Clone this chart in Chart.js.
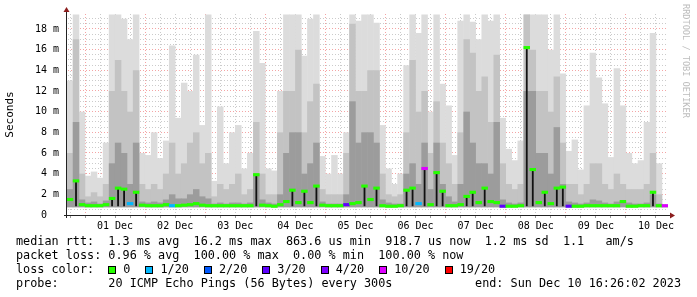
<!DOCTYPE html>
<html>
<head>
<meta charset="utf-8">
<script src="https://cdn.jsdelivr.net/npm/chart.js@4/dist/chart.umd.min.js"></script>
<style>
  html, body { margin: 0; padding: 0; background: #fff; }
  #wrap { position: relative; width: 697px; height: 297px; overflow: hidden; }
  #chart { position: absolute; left: 0; top: 0; }
  .txt { position: absolute; font-family: 'DejaVu Sans Mono', monospace; font-size: 11.8px; line-height: 14px; white-space: pre; color: #000; }
  .box { display: inline-block; width: 6px; height: 6px; border: 1px solid #000; vertical-align: -1px; margin-right: 7px; }
  .item { margin-right: 15px; }
  #mark { position: absolute; left: 681px; top: 4px; writing-mode: vertical-rl; font-family: 'DejaVu Sans Mono', monospace; font-size: 8.6px; color: #bdbdbd; white-space: pre; }
</style>
</head>
<body>
<div id="wrap">
  <canvas id="chart" width="697" height="297"></canvas>
  <div id="mark">RRDTOOL / TOBI OETIKER</div>
  <div class="txt" id="footer" style="left:16px; top:234px;"></div>
  <div class="txt" id="end" style="right:16px; top:276px;"></div>
</div>
<script>
// time axis: days relative to 01 Dec 00:00, one column = 0.1 day
const startDay = -0.3;
const colDays = 0.1;
const dayLabels = ['01 Dec', '02 Dec', '03 Dec', '04 Dec', '05 Dec', '06 Dec', '07 Dec', '08 Dec', '09 Dec', '10 Dec'];

// smoke levels (ms) per column
const smokeMax = [
  13, 19.4, 10, 3.8, 4.2, 3.6, 7, 19.4, 19.4, 19,
  17, 19.4, 6, 5.8, 8, 5.5, 7.2, 16.4, 9.4, 12.8,
  12, 15.5, 8.7, 19.4, 3.3, 10.5, 5, 8, 8.7, 4.5,
  6, 17.8, 14.7, 4.5, 4.3, 12, 19.4, 19.4, 19.4, 15.4,
  19, 19.4, 5.7, 4, 5.8, 4, 8, 19.4, 18.8, 19.4,
  19.4, 18.6, 8.7, 4.5, 3, 4, 14.5, 19.4, 17.6, 19.4,
  10, 19.4, 12.7, 10.6, 5.8, 18.8, 19.4, 18.7, 17, 19.4,
  18.8, 19.4, 9.4, 6.4, 5.3, 7.2, 19.4, 19.4, 19.4, 19.4,
  16, 19.4, 13.7, 6.2, 7.3, 4.4, 10.6, 15.7, 13.3, 10.8,
  5.6, 14.2, 10.6, 6, 5, 5.3, 9, 17.6, 5, 1
];
const smokeMid = [
  6, 17, 4, 1.8, 2.2, 1.8, 3, 12, 15, 12,
  10, 14, 3, 2.5, 3, 2.5, 4, 7, 4, 5,
  7, 8, 5, 6, 1.8, 3, 2.5, 3, 4, 2,
  2.5, 9, 4, 2, 2, 8, 12, 12, 16, 8,
  11, 12.7, 2.5, 2, 2, 2, 6, 18.5, 12, 12,
  14, 14, 4, 2, 1.8, 2, 8, 15, 10, 12,
  6, 11, 7, 5, 3, 8, 17, 15.7, 12, 13.4,
  9, 15.5, 5, 3, 2.5, 3, 19.4, 16, 12, 12,
  10, 13.4, 7, 3, 3, 2, 3, 5, 5, 3,
  2.5, 4, 3, 2.5, 2.5, 2.5, 3, 6, 2, 0.95
];
const smokeDark = [
  2.5, 9, 1.5, 1.2, 1.3, 1.1, 1.4, 5, 7, 6,
  3, 7, 1.3, 1.2, 1.3, 1.2, 1.5, 2, 1.6, 1.6,
  2, 2.5, 1.8, 1.6, 1.1, 1.2, 1.1, 1.2, 1.2, 1.1,
  1.2, 4, 1.5, 1.2, 1.1, 2, 6, 8, 8, 4,
  5, 7, 1.3, 1.1, 1.1, 1.1, 2, 11, 7, 8,
  8, 7, 1.5, 1.2, 1.1, 1.1, 4, 5, 3, 7,
  2.5, 7, 3, 1.8, 1.3, 3, 10, 7, 5, 5,
  4, 9, 1.5, 1.2, 1.1, 1.2, 12, 12, 6, 6,
  4, 8.5, 3, 1.3, 1.2, 1.1, 1.2, 1.5, 1.4, 1.2,
  1.1, 1.3, 1.3, 1.2, 1.1, 1.1, 1.2, 2, 1.1, 0.9
];
// median rtt (ms) and lost pings (of 20) per column
const median = [
  1.5, 3.3, 1.0, 0.9, 0.9, 0.9, 1.0, 1.6, 2.6, 2.5,
  1.1, 2.2, 0.95, 0.9, 0.9, 0.9, 1.0, 0.9, 0.9, 0.95,
  1.0, 1.1, 0.95, 0.9, 0.9, 0.9, 0.9, 0.9, 0.9, 0.9,
  0.9, 3.9, 0.95, 0.9, 0.85, 1.0, 1.3, 2.4, 1.2, 2.3,
  1.2, 2.8, 0.95, 0.9, 0.9, 0.9, 1.0, 1.1, 1.2, 2.8,
  1.5, 2.6, 0.9, 0.85, 0.85, 0.9, 2.4, 2.6, 1.1, 4.5,
  1.0, 4.1, 2.3, 0.9, 0.9, 1.0, 1.8, 2.2, 1.2, 2.6,
  1.3, 1.2, 0.85, 0.85, 0.85, 0.9, 16.2, 4.4, 1.2, 2.2,
  1.1, 2.6, 2.7, 0.85, 0.85, 0.85, 0.9, 0.9, 0.9, 0.9,
  0.9, 0.9, 1.3, 0.85, 0.85, 0.9, 0.9, 2.2, 0.9, 0.9
];
const loss = [
  0, 0, 0, 0, 0, 0, 0, 0, 0, 0,
  1, 0, 0, 0, 0, 0, 0, 1, 0, 0,
  0, 0, 0, 0, 0, 0, 0, 0, 0, 0,
  0, 0, 0, 0, 0, 0, 0, 0, 0, 0,
  0, 0, 0, 0, 0, 0, 3, 0, 0, 0,
  0, 0, 0, 0, 0, 0, 0, 0, 1, 10,
  0, 0, 0, 0, 0, 0, 0, 0, 0, 0,
  0, 0, 3, 0, 0, 0, 0, 0, 0, 0,
  0, 0, 0, 3, 0, 0, 0, 0, 0, 0,
  0, 0, 0, 0, 0, 0, 0, 0, 0, 10
];

const lossLevels = [0, 1, 2, 3, 4, 10, 19];
const lossLabels = ['0', '1/20', '2/20', '3/20', '4/20', '10/20', '19/20'];
const lossColors = ['#26ff00', '#00b8ff', '#0059ff', '#5e00ff', '#7e00ff', '#dd00ff', '#ff0000'];

const rttStats = ['1.3 ms avg', '16.2 ms max', '863.6 us min', '918.7 us now', '1.2 ms sd', '1.1   am/s'];
const lossStats = ['0.96 % avg', '100.00 % max', '0.00 % min', '100.00 % now'];
const probeText = '20 ICMP Echo Pings (56 Bytes) every 300s';
const endText = 'end: Sun Dec 10 16:26:02 2023';

// footer text
const footer = document.getElementById('footer');
const legendItems = lossLabels.map((l, i) =>
  `<span class="item"><span class="box" style="background:${lossColors[i]}"></span>${l}</span>`).join('');
footer.innerHTML = [
  'median rtt:  ' + rttStats.join('  '),
  'packet loss: ' + lossStats.join('  '),
  'loss color:  ' + legendItems,
  'probe:       ' + probeText
].join('\n');
document.getElementById('end').textContent = endText;

const xs = median.map((_, i) => startDay + (i + 0.5) * colDays);
const colorFor = n => lossColors[lossLevels.indexOf(n)];

const smoke = (arr, color, order) => ({
  type: 'bar',
  data: arr.map((v, i) => ({x: xs[i], y: [0.75, v]})),
  backgroundColor: color,
  borderWidth: 0,
  grouped: false,
  barPercentage: 1.08,
  categoryPercentage: 1,
  order
});

const sixHours = [];
for (let t = -0.25; t < 9.7; t += 0.25) sixHours.push(t);
const halfMs = [];
for (let v = 0; v <= 19; v += 0.5) halfMs.push(v);

const red = 'rgba(235, 90, 90, 0.55)';
const gray = 'rgba(140, 140, 140, 0.45)';
const mono = {family: 'DejaVu Sans Mono', size: 10};
const tickVal = c => c.tick ? c.tick.value : NaN;

// solid axis lines with the rrdtool arrow heads
const axes = {
  id: 'axes',
  afterDraw(chart) {
    const {ctx, chartArea: a} = chart;
    ctx.save();
    ctx.strokeStyle = '#222';
    ctx.lineWidth = 1;
    ctx.beginPath();
    ctx.moveTo(a.left - 0.5, a.bottom + 3);
    ctx.lineTo(a.left - 0.5, a.top - 3);
    ctx.moveTo(a.left - 3, a.bottom + 0.5);
    ctx.lineTo(a.right + 2, a.bottom + 0.5);
    ctx.stroke();
    ctx.fillStyle = '#8b1d1d';
    ctx.beginPath();
    ctx.moveTo(a.left - 0.5, a.top - 7);
    ctx.lineTo(a.left - 3.5, a.top - 2);
    ctx.lineTo(a.left + 2.5, a.top - 2);
    ctx.fill();
    ctx.beginPath();
    ctx.moveTo(a.right + 7, a.bottom + 0.5);
    ctx.lineTo(a.right + 2, a.bottom - 2.5);
    ctx.lineTo(a.right + 2, a.bottom + 3.5);
    ctx.fill();
    ctx.restore();
  }
};

new Chart(document.getElementById('chart'), {
  data: {
    datasets: [
      smoke(smokeMax, '#dcdcdc', 5),
      smoke(smokeMid, '#c3c3c3', 4),
      smoke(smokeDark, '#9c9c9c', 3),
      {
        type: 'bar',
        data: median.map((m, i) => ({x: xs[i], y: m > 1.5 ? [0.85, m] : null})),
        backgroundColor: '#111',
        borderWidth: 0,
        grouped: false,
        barPercentage: 0.3,
        categoryPercentage: 1,
        order: 2
      },
      {
        type: 'bar',
        data: median.map((m, i) => ({x: xs[i], y: [m - 0.15, m + 0.15]})),
        backgroundColor: loss.map(colorFor),
        borderWidth: 0,
        grouped: false,
        barPercentage: 1.08,
        categoryPercentage: 1,
        order: 1
      }
    ]
  },
  options: {
    responsive: false,
    animation: false,
    events: [],
    layout: {padding: {left: 0, top: 14, right: 29, bottom: 60}},
    plugins: {legend: {display: false}, tooltip: {enabled: false}},
    scales: {
      x: {
        type: 'linear',
        min: -0.3,
        max: 9.7,
        offset: false,
        z: 1,
        afterBuildTicks: s => { s.ticks = sixHours.map(value => ({value})); },
        afterFit: s => { s.height = 22; },
        ticks: {
          autoSkip: false,
          maxRotation: 0,
          padding: 2,
          color: '#000',
          font: mono,
          callback: v => {
            const d = Math.floor(v);
            return Math.abs(v - d - 0.5) < 1e-6 ? dayLabels[d] : '';
          }
        },
        grid: {
          offset: false,
          color: c => {
            const v = tickVal(c);
            return Math.abs(v - Math.round(v)) < 1e-6 ? red : gray;
          },
          tickColor: '#999',
          tickLength: 3,
          lineWidth: 1
        },
        border: {color: 'rgba(0,0,0,0)', width: 1, dash: c => c.tick ? [1, 2] : []}
      },
      y: {
        min: 0,
        max: 19.45,
        z: 1,
        afterBuildTicks: s => { s.ticks = halfMs.map(value => ({value})); },
        afterFit: s => { s.width = 67; },
        ticks: {
          autoSkip: false,
          padding: 8,
          color: '#000',
          font: mono,
          callback: v => v === 0 ? '0  ' : (v % 2 === 0 ? v + ' m' : '')
        },
        grid: {
          color: c => {
            const v = tickVal(c);
            return v === 0 ? 'rgba(0,0,0,0)' : (v % 2 === 0 ? red : gray);
          },
          drawTicks: false,
          lineWidth: 1
        },
        border: {color: 'rgba(0,0,0,0)', width: 1, dash: c => c.tick ? [1, 2] : []},
        title: {
          display: true,
          text: 'Seconds',
          color: '#000',
          font: {family: 'DejaVu Sans Mono', size: 11},
          padding: {top: 4, bottom: 0}
        }
      }
    }
  },
  plugins: [axes]
});
</script>
</body>
</html>
